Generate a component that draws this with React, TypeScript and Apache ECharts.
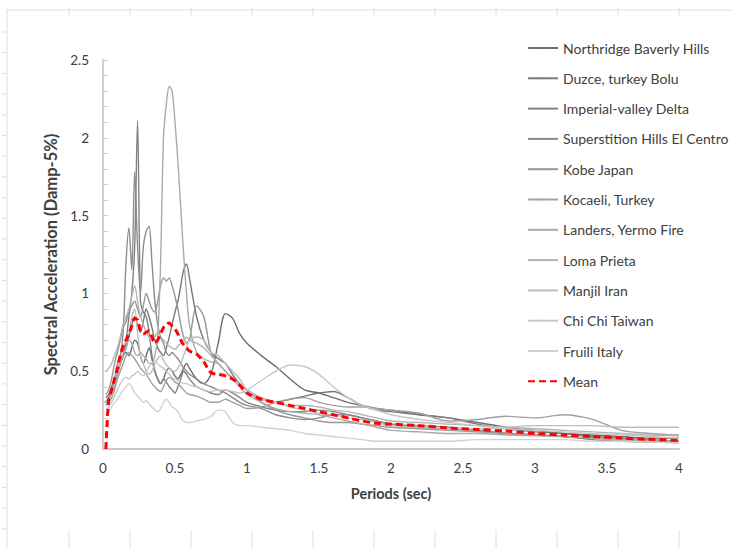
import React, { useEffect, useRef } from "react";
import * as echarts from "echarts";

const periods = [
  0, 0.02, 0.04, 0.06, 0.08, 0.1, 0.12, 0.14, 0.16, 0.18, 0.2, 0.22, 0.24, 0.26, 0.28, 0.3,
  0.32, 0.34, 0.36, 0.38, 0.4, 0.42, 0.44, 0.46, 0.48, 0.5, 0.52, 0.54, 0.56, 0.58, 0.6,
  0.65, 0.7, 0.75, 0.8, 0.85, 0.9, 0.95, 1.0, 1.1, 1.2, 1.3, 1.4, 1.5, 1.6, 1.7, 1.8, 1.9,
  2.0, 2.2, 2.4, 2.6, 2.8, 3.0, 3.2, 3.4, 3.6, 3.8, 4.0,
];

const northridge = [
  null, 0.33, 0.35, 0.4, 0.45, 0.5, 0.55, 0.6, 0.62, 0.6, 0.65, 0.7, 0.68, 0.6, 0.55, 0.6,
  0.65, 0.58, 0.5, 0.45, 0.42, 0.45, 0.5, 0.52, 0.5, 0.47, 0.45, 0.48, 0.52, 0.55, 0.52,
  0.45, 0.42, 0.48, 0.68, 0.87, 0.84, 0.74, 0.68, 0.6, 0.53, 0.45, 0.38, 0.36, 0.33, 0.3, 0.28, 0.26,
  0.25, 0.22, 0.2, 0.17, 0.14, 0.12, 0.1, 0.09, 0.08, 0.07, 0.07,
];
const duzce = [
  null, 0.3, 0.33, 0.38, 0.42, 0.48, 0.55, 0.6, 0.65, 0.72, 0.8, 0.85, 0.8, 0.75, 0.82, 0.9,
  0.85, 0.78, 0.7, 0.65, 0.62, 0.6, 0.65, 0.72, 0.8, 0.88, 0.95, 1.05, 1.15, 1.19, 1.1,
  0.85, 0.7, 0.62, 0.58, 0.55, 0.48, 0.42, 0.38, 0.32, 0.3, 0.32, 0.34, 0.36, 0.37, 0.33, 0.28, 0.25,
  0.24, 0.22, 0.2, 0.16, 0.13, 0.11, 0.1, 0.08, 0.07, 0.06, 0.05,
];
const imperial = [
  null, 0.28, 0.3, 0.35, 0.4, 0.48, 0.55, 0.6, 0.7, 0.85, 1.0, 1.3, 2.11, 0.95, 0.88, 0.85,
  0.75, 0.6, 0.5, 0.45, 0.42, 0.45, 0.43, 0.4, 0.38, 0.36, 0.4, 0.45, 0.5, 0.48, 0.45,
  0.4, 0.38, 0.36, 0.35, 0.38, 0.36, 0.33, 0.3, 0.27, 0.25, 0.24, 0.24, 0.25, 0.24, 0.22, 0.2, 0.18,
  0.16, 0.14, 0.13, 0.12, 0.1, 0.09, 0.08, 0.06, 0.05, 0.045, 0.04,
];
const superstition = [
  null, 0.3, 0.32, 0.38, 0.45, 0.55, 0.6, 0.75, 1.2, 1.42, 1.15, 1.78, 1.3, 1.0, 1.3, 1.4,
  1.43, 1.2, 0.95, 0.8, 0.72, 0.68, 0.62, 0.6, 0.62, 0.6, 0.58, 0.55, 0.52, 0.5, 0.48,
  0.45, 0.42, 0.4, 0.38, 0.36, 0.33, 0.3, 0.28, 0.26, 0.22, 0.2, 0.19, 0.2, 0.22, 0.22, 0.2, 0.18,
  0.16, 0.15, 0.14, 0.12, 0.1, 0.09, 0.08, 0.07, 0.06, 0.05, 0.045,
];
const kobe = [
  null, 0.35, 0.38, 0.45, 0.55, 0.62, 0.7, 0.78, 0.82, 0.88, 0.92, 0.95, 0.9, 0.85, 0.92, 1.0,
  0.95, 0.9, 0.88, 0.95, 1.05, 1.1, 1.08, 1.1, 1.05, 0.98, 0.9, 0.8, 0.72, 0.68, 0.7,
  0.92, 0.85, 0.62, 0.55, 0.5, 0.45, 0.42, 0.38, 0.3, 0.25, 0.22, 0.2, 0.18, 0.17, 0.17, 0.16, 0.15,
  0.14, 0.13, 0.12, 0.11, 0.1, 0.09, 0.08, 0.07, 0.06, 0.055, 0.05,
];
const kocaeli = [
  null, 0.3, 0.3, 0.33, 0.38, 0.45, 0.5, 0.55, 0.6, 0.62, 0.6, 0.58, 0.55, 0.52, 0.5, 0.48,
  0.45, 0.42, 0.4, 0.38, 0.37, 0.4, 0.44, 0.46, 0.45, 0.43, 0.42, 0.4, 0.38, 0.36, 0.35,
  0.34, 0.32, 0.3, 0.3, 0.32, 0.3, 0.28, 0.26, 0.27, 0.3, 0.32, 0.33, 0.3, 0.28, 0.27, 0.27, 0.26,
  0.25, 0.23, 0.18, 0.19, 0.21, 0.2, 0.22, 0.19, 0.12, 0.1, 0.09,
];
const landers = [
  null, 0.3, 0.32, 0.36, 0.42, 0.5, 0.55, 0.6, 0.65, 0.7, 0.68, 0.62, 0.6, 0.62, 0.6, 0.58,
  0.55, 0.55, 0.6, 0.72, 1.2, 2.0, 2.22, 2.33, 2.3, 2.1, 1.85, 1.55, 1.25, 1.0, 0.8,
  0.62, 0.58, 0.56, 0.55, 0.5, 0.45, 0.4, 0.35, 0.3, 0.26, 0.24, 0.23, 0.22, 0.2, 0.18, 0.16, 0.14,
  0.12, 0.11, 0.1, 0.1, 0.09, 0.085, 0.08, 0.07, 0.06, 0.055, 0.05,
];
const lomaPrieta = [
  null, 0.5, 0.52, 0.55, 0.6, 0.65, 0.72, 0.8, 0.85, 0.9, 0.98, 1.05, 0.95, 0.85, 0.8, 0.75,
  0.72, 0.7, 0.72, 0.75, 0.72, 0.7, 0.68, 0.66, 0.65, 0.64, 0.66, 0.68, 0.7, 0.72, 0.7,
  0.68, 0.65, 0.6, 0.55, 0.5, 0.46, 0.42, 0.38, 0.33, 0.3, 0.28, 0.28, 0.27, 0.25, 0.24, 0.22, 0.2,
  0.18, 0.17, 0.16, 0.15, 0.14, 0.13, 0.12, 0.11, 0.1, 0.09, 0.085,
];
const manjil = [
  null, 0.28, 0.3, 0.35, 0.42, 0.5, 0.58, 0.65, 0.7, 0.75, 0.85, 0.9, 0.75, 0.6, 0.55, 0.5,
  0.48, 0.5, 0.55, 0.58, 0.6, 0.57, 0.54, 0.52, 0.5, 0.5, 0.52, 0.55, 0.6, 0.65, 0.7,
  0.72, 0.7, 0.62, 0.6, 0.55, 0.5, 0.45, 0.38, 0.32, 0.3, 0.27, 0.25, 0.23, 0.22, 0.2, 0.19, 0.17,
  0.15, 0.14, 0.13, 0.13, 0.14, 0.15, 0.15, 0.15, 0.14, 0.14, 0.14,
];
const chiChi = [
  null, 0.25, 0.27, 0.3, 0.34, 0.38, 0.42, 0.45, 0.46, 0.45, 0.47, 0.48, 0.5, 0.48, 0.47, 0.5,
  0.53, 0.55, 0.56, 0.55, 0.53, 0.52, 0.5, 0.48, 0.46, 0.45, 0.44, 0.43, 0.42, 0.42, 0.41,
  0.4, 0.38, 0.37, 0.38, 0.38, 0.37, 0.36, 0.38, 0.44, 0.5, 0.54, 0.53, 0.48, 0.4, 0.33, 0.28, 0.25,
  0.22, 0.19, 0.17, 0.15, 0.13, 0.12, 0.11, 0.1, 0.09, 0.08, 0.07,
];
const fruili = [
  null, 0.22, 0.24, 0.27, 0.3, 0.32, 0.35, 0.38, 0.4, 0.42, 0.4, 0.36, 0.34, 0.32, 0.3, 0.31,
  0.29, 0.27, 0.25, 0.24, 0.26, 0.3, 0.32, 0.3, 0.27, 0.26, 0.24, 0.2, 0.18, 0.17, 0.17,
  0.18, 0.19, 0.21, 0.25, 0.24, 0.17, 0.15, 0.15, 0.14, 0.13, 0.12, 0.1, 0.09, 0.08, 0.07, 0.06, 0.05,
  0.05, 0.05, 0.05, 0.06, 0.06, 0.06, 0.06, 0.05, 0.05, 0.045, 0.04,
];
const mean = [
  null, 0, 0.32, 0.38, 0.45, 0.52, 0.6, 0.66, 0.7, 0.74, 0.79, 0.84, 0.83, 0.76, 0.74, 0.75,
  0.76, 0.72, 0.68, 0.7, 0.74, 0.78, 0.8, 0.81, 0.79, 0.77, 0.74, 0.7, 0.67, 0.65, 0.63,
  0.61, 0.56, 0.49, 0.48, 0.47, 0.45, 0.41, 0.36, 0.32, 0.3, 0.28, 0.26, 0.24, 0.22, 0.2, 0.18, 0.165,
  0.16, 0.15, 0.135, 0.125, 0.115, 0.1, 0.09, 0.08, 0.07, 0.062, 0.055,
];

const seriesNames = [
  "Northridge Baverly Hills",
  "Duzce, turkey Bolu",
  "Imperial-valley Delta",
  "Superstition Hills El Centro",
  "Kobe Japan",
  "Kocaeli, Turkey",
  "Landers, Yermo Fire",
  "Loma Prieta",
  "Manjil Iran",
  "Chi Chi Taiwan",
  "Fruili Italy",
];
const seriesValues = [
  northridge, duzce, imperial, superstition, kobe, kocaeli, landers, lomaPrieta, manjil, chiChi, fruili,
];
const seriesColors = [
  "#6e6e6e", "#787878", "#828282", "#8c8c8c", "#969696", "#a0a0a0",
  "#aaaaaa", "#b4b4b4", "#bebebe", "#c8c8c8", "#d2d2d2",
];
const xTicks = [0, 0.5, 1, 1.5, 2, 2.5, 3, 3.5, 4];

const FONT = "Lato, 'Noto Sans', sans-serif";

function toPairs(vals: (number | null)[]) {
  const out: [number, number][] = [];
  vals.forEach((v, i) => {
    if (v !== null) out.push([periods[i], v]);
  });
  return out;
}

function frameGraphics() {
  const c = "#dedede";
  const els: any[] = [];
  els.push({ type: "line", shape: { x1: 6, y1: 10, x2: 731, y2: 10 }, style: { stroke: c, lineWidth: 1 } });
  els.push({ type: "line", shape: { x1: 7, y1: 10, x2: 7, y2: 548 }, style: { stroke: c, lineWidth: 1 } });
  for (let k = 0; k < 11; k++) {
    const x = 69 + 61 * k;
    els.push({ type: "line", shape: { x1: x, y1: 7, x2: x, y2: 16 }, style: { stroke: c, lineWidth: 1 } });
    els.push({ type: "line", shape: { x1: x, y1: 530, x2: x, y2: 548 }, style: { stroke: c, lineWidth: 1 } });
  }
  for (let k = 0; k < 26; k++) {
    const y = 32 + 20.7 * k;
    els.push({ type: "line", shape: { x1: 2, y1: y, x2: 7, y2: y }, style: { stroke: c, lineWidth: 1 } });
  }
  return els;
}

export default function App() {
  const ref = useRef<HTMLDivElement>(null);
  useEffect(() => {
    document.body.style.margin = "0";
    if (!ref.current) return;
    const chart = echarts.init(ref.current, null, { renderer: "svg" });
    const series: any[] = seriesNames.map((name, i) => ({
      name,
      type: "line",
      data: toPairs(seriesValues[i]),
      smooth: 0.3,
      symbol: "none",
      lineStyle: { color: seriesColors[i], width: 1.4 },
      itemStyle: { color: seriesColors[i] },
      z: 2,
    }));
    series.push({
      name: "Mean",
      type: "line",
      data: toPairs(mean),
      smooth: 0.3,
      symbol: "none",
      lineStyle: { color: "#ff0000", width: 3, type: [7, 4] },
      itemStyle: { color: "#ff0000" },
      z: 3,
    });
    chart.setOption({
      animation: false,
      backgroundColor: "#ffffff",
      grid: { left: 103, right: 52, top: 60, bottom: 99 },
      xAxis: {
        type: "value",
        min: 0,
        max: 4,
        interval: 0.5,
        name: "Periods (sec)",
        nameLocation: "middle",
        nameGap: 37,
        nameTextStyle: { fontFamily: FONT, fontSize: 14.5, fontWeight: "bold", color: "#404040" },
        axisLine: { show: true, lineStyle: { color: "#c8c8c8", width: 2 } },
        axisTick: { show: false },
        splitLine: { show: false },
        axisLabel: {
          margin: 12,
          fontFamily: FONT,
          fontSize: 13.5,
          color: "#404040",
          formatter: (v: number) => (xTicks.includes(v) ? String(v) : ""),
        },
      },
      yAxis: {
        type: "value",
        min: 0,
        max: 2.5,
        interval: 0.5,
        name: "Spectral Acceleration (Damp-5%)",
        nameLocation: "middle",
        nameGap: 32,
        nameTextStyle: { fontFamily: FONT, fontSize: 16.5, fontWeight: "bold", color: "#404040" },
        axisLine: { show: true, lineStyle: { color: "#d0d0d0", width: 2 } },
        axisTick: { show: true, inside: true, length: 5, lineStyle: { color: "#d0d0d0" } },
        minorTick: { show: true, splitNumber: 5, length: 5, lineStyle: { color: "#d0d0d0" } },
        splitLine: { show: false },
        axisLabel: { margin: 14, fontFamily: FONT, fontSize: 13.5, color: "#404040" },
      },
      legend: {
        orient: "vertical",
        left: 522,
        top: 36,
        itemWidth: 30,
        itemHeight: 2,
        itemGap: 16.3,
        textStyle: { fontFamily: FONT, fontSize: 14, color: "#404040", lineHeight: 14 },
        data: [...seriesNames, "Mean"],
      },
      graphic: frameGraphics(),
      series,
    });
    return () => chart.dispose();
  }, []);
  return <div ref={ref} style={{ width: 731, height: 548 }} />;
}
